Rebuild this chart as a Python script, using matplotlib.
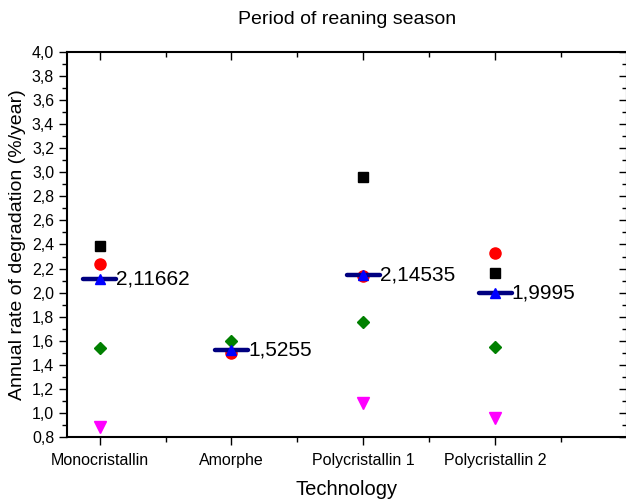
import matplotlib
matplotlib.use("Agg")
import matplotlib.pyplot as plt
from matplotlib.ticker import MultipleLocator, FuncFormatter, FixedLocator

plt.rcParams['font.family'] = ['Liberation Sans', 'DejaVu Sans']

categories = ["Monocristallin", "Amorphe", "Polycristallin 1", "Polycristallin 2"]
positions = [1, 2, 3, 4]

black_sq = [2.39, None, 2.96, 2.16]
red_circ = [2.235, 1.50, 2.14, 2.33]
green_dia = [1.54, 1.60, 1.755, 1.55]
magenta_tri = [0.885, None, 1.085, 0.955]
mean_vals = [2.11662, 1.5255, 2.14535, 1.9995]
mean_labels = ["2,11662", "1,5255", "2,14535", "1,9995"]

fig = plt.figure(figsize=(6.26, 5.01), dpi=100)
ax = fig.add_axes([0.1065, 0.128, 0.895, 0.768])

def pts(xs, ys):
    px, py = [], []
    for x, y in zip(xs, ys):
        if y is not None:
            px.append(x); py.append(y)
    return px, py

x, y = pts(positions, black_sq)
ax.plot(x, y, 's', color='black', ms=7, ls='none', zorder=3)
x, y = pts(positions, red_circ)
ax.plot(x, y, 'o', color='red', ms=8, ls='none', zorder=3)
x, y = pts(positions, green_dia)
ax.plot(x, y, 'D', color='green', ms=6.5, ls='none', zorder=3)
x, y = pts(positions, magenta_tri)
ax.plot(x, y, 'v', color='magenta', ms=9, ls='none', zorder=3)

for p, m, lab in zip(positions, mean_vals, mean_labels):
    ax.plot([p - 0.125, p + 0.125], [m, m], color='#000080', lw=3.2,
            solid_capstyle='round', zorder=4)
    ax.plot([p], [m], '^', color='blue', ms=6.5, zorder=5)
    ax.text(p + 0.125, m, lab, fontsize=15, va='center', ha='left', zorder=6)

ax.set_xlim(0.75, 5.0)
ax.set_ylim(0.8, 4.0)

ax.xaxis.set_major_locator(FixedLocator([1, 2, 3, 4, 5]))
ax.xaxis.set_minor_locator(FixedLocator([1.5, 2.5, 3.5, 4.5]))
ax.set_xticklabels(categories + [""])
ax.yaxis.set_major_locator(MultipleLocator(0.2))
ax.yaxis.set_minor_locator(MultipleLocator(0.1))
ax.yaxis.set_major_formatter(FuncFormatter(lambda v, p: f"{v:.1f}".replace('.', ',')))

ax.tick_params(axis='both', which='major', labelsize=11.5, length=6, width=1, pad=3)
ax.tick_params(axis='x', which='major', pad=5.5)
ax.tick_params(axis='both', which='minor', length=3.5, width=1)
ax.tick_params(axis='x', which='both', direction='out', top=True)
ax.tick_params(axis='y', which='both', direction='out', right=True)
for t in ax.xaxis.get_ticklines(minor=False)[1::2] + ax.xaxis.get_ticklines(minor=True)[1::2]:
    t.set_marker(3)  # top ticks inward (down)
for t in ax.yaxis.get_ticklines(minor=False)[1::2] + ax.yaxis.get_ticklines(minor=True)[1::2]:
    t.set_marker(0)  # right ticks inward

for s in ax.spines.values():
    s.set_linewidth(1.5)

ax.set_xlabel("Technology", fontsize=14.5, labelpad=9)
ax.set_ylabel("Annual rate of degradation (%/year)", fontsize=14, labelpad=4)
ax.set_title("Period of reaning season", fontsize=14, pad=20)

fig.savefig("out.png", dpi=100)
